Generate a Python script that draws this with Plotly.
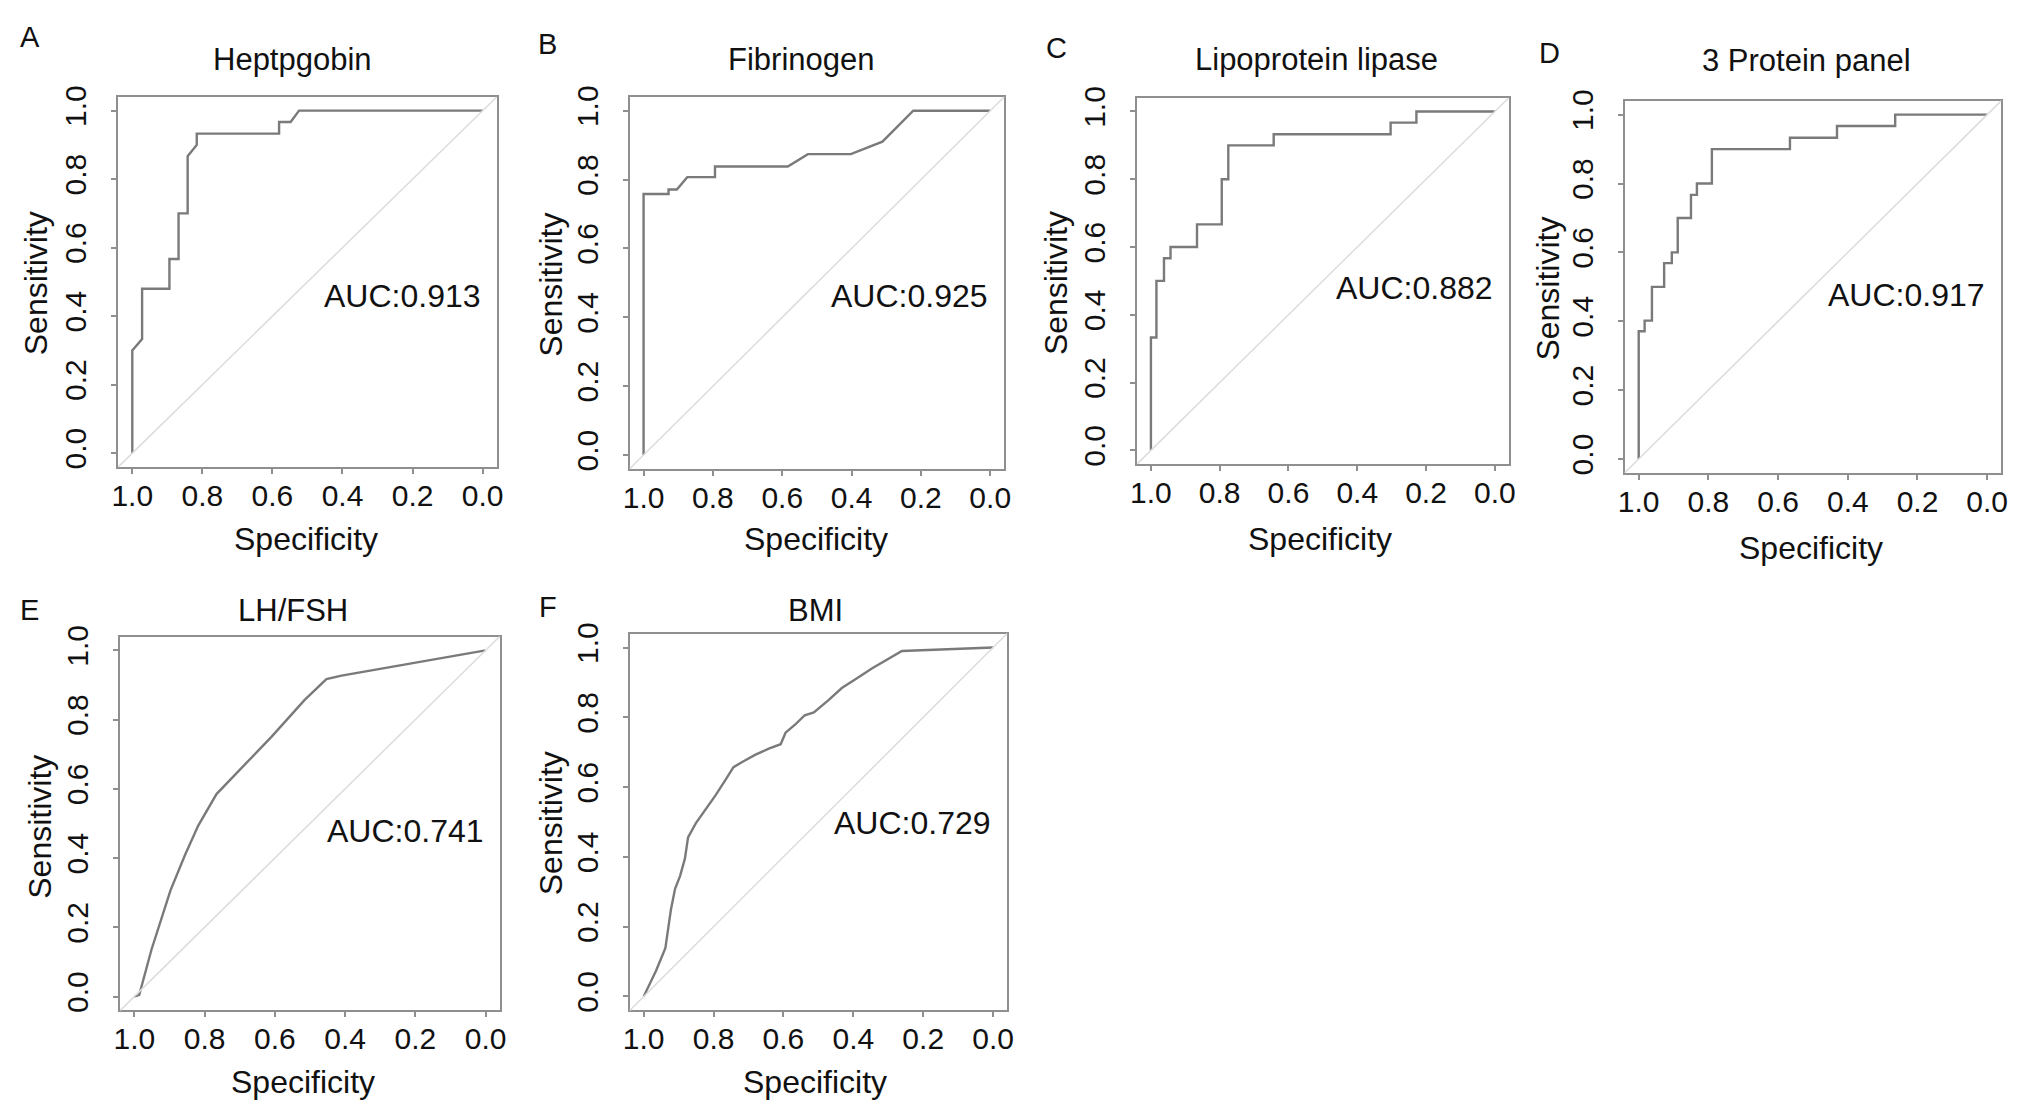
import plotly.graph_objects as go

# ROC curves (specificity, sensitivity)
heptpgobin_spec = [1.0, 1.0, 0.972, 0.972, 0.894, 0.894, 0.868, 0.868, 0.842, 0.842, 0.816, 0.816,
                   0.581, 0.581, 0.548, 0.524, 0.0]
heptpgobin_sens = [0.0, 0.30, 0.333, 0.48, 0.48, 0.567, 0.567, 0.70, 0.70, 0.867, 0.90, 0.933,
                   0.933, 0.967, 0.967, 1.0, 1.0]

fibrinogen_spec = [1.0, 1.0, 0.928, 0.928, 0.904, 0.874, 0.794, 0.794, 0.584, 0.526, 0.402, 0.311, 0.222, 0.0]
fibrinogen_sens = [0.0, 0.758, 0.758, 0.771, 0.771, 0.807, 0.807, 0.838, 0.838, 0.874, 0.874, 0.910, 1.0, 1.0]

lpl_spec = [1.0, 1.0, 0.984, 0.984, 0.962, 0.962, 0.943, 0.943, 0.866, 0.866, 0.794, 0.794,
            0.775, 0.775, 0.643, 0.643, 0.303, 0.303, 0.228, 0.228, 0.0]
lpl_sens = [0.0, 0.333, 0.333, 0.50, 0.50, 0.567, 0.567, 0.60, 0.60, 0.667, 0.667, 0.80,
            0.80, 0.90, 0.90, 0.933, 0.933, 0.967, 0.967, 1.0, 1.0]

panel3_spec = [1.0, 1.0, 0.983, 0.983, 0.962, 0.962, 0.927, 0.927, 0.905, 0.905, 0.888, 0.888,
               0.850, 0.850, 0.833, 0.833, 0.790, 0.790, 0.566, 0.566, 0.431, 0.431, 0.264, 0.264, 0.0]
panel3_sens = [0.0, 0.371, 0.371, 0.402, 0.402, 0.50, 0.50, 0.569, 0.569, 0.60, 0.60, 0.70,
               0.70, 0.767, 0.767, 0.80, 0.80, 0.90, 0.90, 0.933, 0.933, 0.967, 0.967, 1.0, 1.0]

lhfsh_spec = [1.0, 0.986, 0.951, 0.922, 0.897, 0.856, 0.818, 0.766, 0.704, 0.609, 0.515, 0.453, 0.410, 0.0]
lhfsh_sens = [0.0, 0.005, 0.136, 0.227, 0.307, 0.408, 0.494, 0.585, 0.650, 0.751, 0.857, 0.917, 0.927, 1.0]

bmi_spec = [1.0, 0.965, 0.938, 0.930, 0.922, 0.910, 0.896, 0.882, 0.873, 0.851, 0.822, 0.794, 0.765,
            0.743, 0.718, 0.680, 0.642, 0.608, 0.594, 0.566, 0.539, 0.513, 0.471, 0.433, 0.394,
            0.347, 0.261, 0.0]
bmi_sens = [0.0, 0.073, 0.138, 0.194, 0.249, 0.309, 0.345, 0.395, 0.456, 0.496, 0.536, 0.577, 0.622,
            0.657, 0.672, 0.693, 0.710, 0.723, 0.756, 0.780, 0.806, 0.814, 0.849, 0.884, 0.909,
            0.940, 0.990, 1.0]

letters = ["A", "B", "C", "D", "E", "F"]
titles = ["Heptpgobin", "Fibrinogen", "Lipoprotein lipase", "3 Protein panel", "LH/FSH", "BMI"]
auc_labels = ["AUC:0.913", "AUC:0.925", "AUC:0.882", "AUC:0.917", "AUC:0.741", "AUC:0.729"]
auc_y = [0.46, 0.461, 0.479, 0.476, 0.479, 0.496]
specs = [heptpgobin_spec, fibrinogen_spec, lpl_spec, panel3_spec, lhfsh_spec, bmi_spec]
senss = [heptpgobin_sens, fibrinogen_sens, lpl_sens, panel3_sens, lhfsh_sens, bmi_sens]
tick_vals = [0.0, 0.2, 0.4, 0.6, 0.8, 1.0]

# page has an 8px body margin, so the figure is laid out in page pixels minus that
OFF = 8
W, H = 2027 - OFF, 1116 - OFF
# plot boxes in page pixels: left, top, right, bottom
boxes = [(112, 86, 493, 461), (627, 86, 1004, 463), (1138, 87, 1512, 458),
         (1629, 90, 2008, 467), (114, 633, 496, 1012), (627, 630, 1007, 1012)]
letter_pos = [(23, 25), (544, 32), (1057, 36), (1553, 41), (23, 606), (545, 603)]
title_pos = [(287, 48), (799, 48), (1319, 48), (1812, 49), (288, 607), (814, 607)]
xtitle_pos = [(301, 534), (815, 534), (1322, 534), (1817, 543), (298, 1085), (814, 1085)]
ytitle_pos = [(30, 275), (548, 276), (1057, 275), (1552, 280), (33, 826), (548, 822)]

FONT = "Liberation Sans, Arial, sans-serif"
TXT = "#111111"
BOX = "#8f8f8f"


def px(x, y):
    return (x - OFF) / W, 1 - (y - OFF) / H


fig = go.Figure()
annotations = []
shapes = []
layout = {}

for i in range(6):
    n = "" if i == 0 else str(i + 1)
    l, t, r, b = boxes[i]
    x0, y1 = px(l, t)
    x1, y0 = px(r, b)
    axis_common = dict(
        showgrid=False, zeroline=False, showline=True, linecolor=BOX, linewidth=2,
        mirror=True, ticks="outside", ticklen=5, tickcolor=BOX, tickwidth=1.5,
        tickvals=tick_vals, tickformat=".1f",
        tickfont=dict(family=FONT, size=30, color=TXT),
    )
    layout["xaxis" + n] = dict(axis_common, domain=[x0, x1], range=[1.04, -0.04],
                               anchor="y" + n, ticklabelstandoff=-4)
    layout["yaxis" + n] = dict(axis_common, domain=[y0, y1], range=[-0.04, 1.04],
                               anchor="x" + n, tickangle=-90, ticklabelstandoff=13)

    # reference diagonal
    shapes.append(dict(type="line", xref="x" + n + " domain", yref="y" + n + " domain",
                       x0=0, y0=0, x1=1, y1=1, line=dict(color="#dcdcdc", width=1.5)))

    fig.add_trace(go.Scatter(x=specs[i], y=senss[i], mode="lines", xaxis="x" + n, yaxis="y" + n,
                             line=dict(color="#7a7a7a", width=2.4), showlegend=False,
                             hoverinfo="skip"))

    annotations.append(dict(text=auc_labels[i], x=0.0, y=auc_y[i], xref="x" + n, yref="y" + n,
                            xanchor="right", yanchor="middle", showarrow=False,
                            font=dict(family=FONT, size=32, color=TXT)))
    lx, ly = px(*letter_pos[i])
    annotations.append(dict(text=letters[i], x=lx, y=ly, xref="paper", yref="paper",
                            xanchor="center", yanchor="middle", showarrow=False,
                            font=dict(family=FONT, size=29, color=TXT)))
    tx, ty = px(*title_pos[i])
    annotations.append(dict(text=titles[i], x=tx, y=ty, xref="paper", yref="paper",
                            xanchor="center", yanchor="middle", showarrow=False,
                            font=dict(family=FONT, size=31, color=TXT)))
    sx, sy = px(*xtitle_pos[i])
    annotations.append(dict(text="Specificity", x=sx, y=sy, xref="paper", yref="paper",
                            xanchor="center", yanchor="middle", showarrow=False,
                            font=dict(family=FONT, size=32, color=TXT)))
    vx, vy = px(*ytitle_pos[i])
    annotations.append(dict(text="Sensitivity", x=vx, y=vy, xref="paper", yref="paper",
                            xanchor="center", yanchor="middle", showarrow=False, textangle=-90,
                            font=dict(family=FONT, size=32, color=TXT)))

fig.update_layout(**layout)
fig.update_layout(width=W, height=H, margin=dict(l=0, r=0, t=0, b=0),
                  paper_bgcolor="white", plot_bgcolor="white",
                  annotations=annotations, shapes=shapes, showlegend=False)

fig.write_html("out.html")
